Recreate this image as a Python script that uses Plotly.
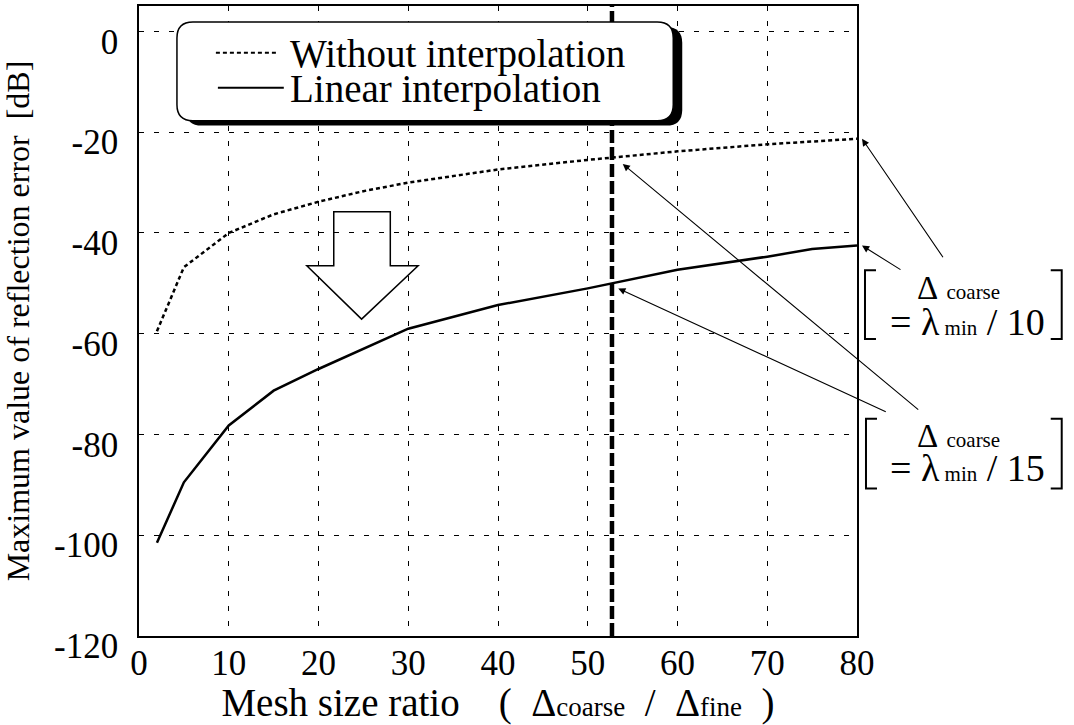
import plotly.graph_objects as go

# ---------------- data ----------------
x_without = [2, 5, 10, 15, 20, 25, 30, 40, 50, 60, 70, 80]
y_without = [-59.5, -46.8, -40.0, -36.3, -33.8, -31.7, -30.0, -27.4, -25.5, -23.8, -22.4, -21.3]

x_linear = [2, 5, 10, 15, 20, 25, 30, 40, 50, 60, 70, 75, 80]
y_linear = [-101.5, -89.5, -78.2, -71.3, -67.0, -63.0, -59.0, -54.3, -51.0, -47.3, -44.7, -43.2, -42.5]

x_ticks = [0, 10, 20, 30, 40, 50, 60, 70, 80]
y_ticks = [-120, -100, -80, -60, -40, -20, 0]
y_tick_labels = [str(v) for v in y_ticks]

marker_ratio = 52.7          # thick dashed vertical line (Δcoarse = λmin/15 case)

# hollow "improvement" arrow (data units)
arrow_shaft_x = [21.7, 28.0]
arrow_shaft_top = -35.8
arrow_head_base = -46.5
arrow_head_x = [18.7, 31.1]
arrow_tip = (24.8, -57.1)

# ---------------- geometry ----------------
W, H = 1074, 725
ML, MR, MT, MB = 138, 217, 4, 89
PW, PH = W - ML - MR, H - MT - MB

def px(x):
    return (x - ML) / PW

def py(y):
    return (H - MB - y) / PH

FONT = "Liberation Serif"

fig = go.Figure()

fig.add_trace(go.Scatter(
    x=x_without, y=y_without, mode="lines", name="Without interpolation",
    line=dict(color="black", width=2.5, dash="4px,3px"), showlegend=False))
fig.add_trace(go.Scatter(
    x=x_linear, y=y_linear, mode="lines", name="Linear interpolation",
    line=dict(color="black", width=2.5), showlegend=False))

shapes = []

# thick dashed vertical line
shapes.append(dict(type="line", xref="x", yref="paper", x0=marker_ratio, x1=marker_ratio,
                   y0=0, y1=1, line=dict(color="black", width=4.5, dash="13px,4px")))

# hollow arrow
ax0, ax1 = arrow_shaft_x
hx0, hx1 = arrow_head_x
tx, ty = arrow_tip
arrow_path = (f"M {ax0},{arrow_shaft_top} L {ax1},{arrow_shaft_top} L {ax1},{arrow_head_base} "
              f"L {hx1},{arrow_head_base} L {tx},{ty} L {hx0},{arrow_head_base} "
              f"L {ax0},{arrow_head_base} Z")
shapes.append(dict(type="path", xref="x", yref="y", path=arrow_path,
                   line=dict(color="black", width=1.5), fillcolor="rgba(0,0,0,0)"))

# legend box (rounded, with shadow)
def rounded(x0, y0, x1, y1, r):
    def P(a, b):
        return f"{px(a):.5f},{py(b):.5f}"
    return (f"M {P(x0 + r, y0)} L {P(x1 - r, y0)} Q {P(x1, y0)} {P(x1, y0 + r)} "
            f"L {P(x1, y1 - r)} Q {P(x1, y1)} {P(x1 - r, y1)} L {P(x0 + r, y1)} "
            f"Q {P(x0, y1)} {P(x0, y1 - r)} L {P(x0, y0 + r)} Q {P(x0, y0)} {P(x0 + r, y0)} Z")

bx0, by0, bx1, by1 = 176, 20, 673, 119
shapes.append(dict(type="path", xref="paper", yref="paper",
                   path=rounded(bx0 + 9, by0 + 5, bx1 + 9, by1 + 5, 16),
                   fillcolor="black", line=dict(width=0)))
shapes.append(dict(type="path", xref="paper", yref="paper",
                   path=rounded(bx0, by0, bx1, by1, 16),
                   fillcolor="white", line=dict(color="black", width=1.5)))

# legend samples
shapes.append(dict(type="line", xref="paper", yref="paper", x0=px(215), x1=px(277),
                   y0=py(51), y1=py(51), line=dict(color="black", width=2, dash="4px,3px")))
shapes.append(dict(type="line", xref="paper", yref="paper", x0=px(217), x1=px(283),
                   y0=py(86), y1=py(86), line=dict(color="black", width=2)))

# brackets
def bracket(xl, xr, yt, yb, arm=11):
    return [
        dict(type="path", xref="paper", yref="paper",
             path=f"M {px(xl + arm)},{py(yt)} L {px(xl)},{py(yt)} L {px(xl)},{py(yb)} L {px(xl + arm)},{py(yb)}",
             line=dict(color="black", width=2)),
        dict(type="path", xref="paper", yref="paper",
             path=f"M {px(xr - arm)},{py(yt)} L {px(xr)},{py(yt)} L {px(xr)},{py(yb)} L {px(xr - arm)},{py(yb)}",
             line=dict(color="black", width=2)),
    ]

shapes += bracket(865, 1062, 269, 338)
shapes += bracket(866, 1062, 418, 488)

annotations = []

# legend texts
annotations.append(dict(xref="paper", yref="paper", x=px(287), y=py(52), xanchor="left",
                        yanchor="middle", showarrow=False, text="Without interpolation",
                        font=dict(family=FONT, size=39, color="black")))
annotations.append(dict(xref="paper", yref="paper", x=px(287), y=py(87), xanchor="left",
                        yanchor="middle", showarrow=False, text="Linear interpolation",
                        font=dict(family=FONT, size=39, color="black")))

# bracket texts
small = "<span style='font-size:21px'>{}</span>"
for (y1, y2, n) in [(287, 321, "10"), (435, 467, "15")]:
    annotations.append(dict(xref="paper", yref="paper", x=px(959), y=py(y1), xanchor="center",
                            yanchor="middle", showarrow=False,
                            text="Δ\u00a0" + small.format("coarse"),
                            font=dict(family=FONT, size=33, color="black")))
    annotations.append(dict(xref="paper", yref="paper", x=px(968), y=py(y2), xanchor="center",
                            yanchor="middle", showarrow=False,
                            text="=\u00a0λ" + small.format("\u00a0min") + "\u00a0/\u00a0" + n,
                            font=dict(family=FONT, size=38, color="black")))

# pointer arrows (tip at data point, tail offset in pixels)
pointers = [
    (80, y_without[-1], 5, 82, 120),
    (80, y_linear[-1], 5, 40, 25),
    (marker_ratio + 1.2, -26.3, 0, 297, 247),
    (marker_ratio + 0.7, -51.0, 0, 269, 124),
]
for (xa, ya, xs, dx, dy) in pointers:
    annotations.append(dict(xref="x", yref="y", x=xa, y=ya, xshift=xs, ax=dx, ay=dy,
                            axref="pixel", ayref="pixel", text="", showarrow=True,
                            arrowhead=2, arrowsize=1.3, arrowwidth=1.1, arrowcolor="black"))

fig.update_layout(
    width=W, height=H,
    margin=dict(l=ML, r=MR, t=MT, b=MB, pad=0),
    paper_bgcolor="white", plot_bgcolor="white",
    font=dict(family=FONT, color="black"),
    shapes=shapes, annotations=annotations,
    showlegend=False,
)

grid_common = dict(showgrid=True, gridcolor="black", gridwidth=1, griddash="5px,10px",
                   zeroline=False, showline=True, linecolor="black", linewidth=1.5,
                   mirror=True, ticks="", tickfont=dict(family=FONT, size=35, color="black"))

small_t = "<span style='font-size:27px'>{}</span>"
fig.update_xaxes(range=[0, 80], tickvals=x_ticks, ticklabelstandoff=-5,
                 title=dict(text="\u00a0\u00a0\u00a0\u00a0Mesh size ratio\u00a0\u00a0\u00a0\u00a0(\u00a0\u00a0Δ"
                                 + small_t.format("coarse") + "\u00a0\u00a0/\u00a0\u00a0Δ"
                                 + small_t.format("fine") + "\u00a0\u00a0)",
                            font=dict(family=FONT, size=39, color="black"), standoff=6),
                 **grid_common)
fig.update_yaxes(range=[-120, 5.05], tickvals=y_ticks, ticktext=y_tick_labels,
                 ticklabelshift=10, ticklabelstandoff=12,
                 title=dict(text="Maximum value of reflection error\u00a0\u00a0[dB]\u00a0\u00a0\u00a0\u00a0",
                            font=dict(family=FONT, size=32, color="black"), standoff=28),
                 **grid_common)

fig.write_html("out.html", post_script="document.body.style.margin='0';",
               config={"displayModeBar": False})
